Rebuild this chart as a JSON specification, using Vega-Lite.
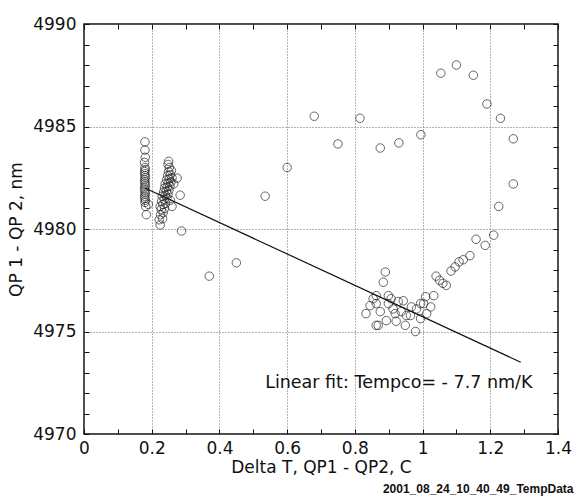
{
  "$schema": "https://vega.github.io/schema/vega-lite/v6.json",
  "width": 474,
  "height": 410,
  "autosize": {"type": "none"},
  "padding": {"left": 84, "top": 24, "right": 16, "bottom": 68},
  "background": "white",
  "config": {"view": {"stroke": "#111", "strokeWidth": 1.5}, "font": "DejaVu Sans"},
  "title": {"text": "2001_08_24_10_40_49_TempData", "orient": "bottom", "anchor": "end", "fontSize": 12, "fontWeight": "bold", "font": "Liberation Sans", "color": "#111", "offset": 9, "dx": 2},
  "datasets": {
    "pts": [
      {"dT": 0.18, "dQ": 4984.25}, {"dT": 0.18, "dQ": 4983.85}, {"dT": 0.181, "dQ": 4983.5}, {"dT": 0.179, "dQ": 4983.25},
      {"dT": 0.18, "dQ": 4983.0}, {"dT": 0.181, "dQ": 4982.9}, {"dT": 0.179, "dQ": 4982.8}, {"dT": 0.18, "dQ": 4982.7},
      {"dT": 0.18, "dQ": 4982.6}, {"dT": 0.181, "dQ": 4982.5}, {"dT": 0.179, "dQ": 4982.4}, {"dT": 0.18, "dQ": 4982.3},
      {"dT": 0.18, "dQ": 4982.2}, {"dT": 0.181, "dQ": 4982.1}, {"dT": 0.179, "dQ": 4982.0}, {"dT": 0.18, "dQ": 4981.9},
      {"dT": 0.18, "dQ": 4981.8}, {"dT": 0.181, "dQ": 4981.7}, {"dT": 0.179, "dQ": 4981.6}, {"dT": 0.18, "dQ": 4981.5},
      {"dT": 0.181, "dQ": 4981.4}, {"dT": 0.18, "dQ": 4981.3}, {"dT": 0.182, "dQ": 4981.1}, {"dT": 0.19, "dQ": 4981.2},
      {"dT": 0.184, "dQ": 4980.7},
      {"dT": 0.225, "dQ": 4980.2}, {"dT": 0.222, "dQ": 4980.45}, {"dT": 0.232, "dQ": 4980.5}, {"dT": 0.226, "dQ": 4980.7},
      {"dT": 0.234, "dQ": 4980.8}, {"dT": 0.228, "dQ": 4980.95}, {"dT": 0.238, "dQ": 4981.0}, {"dT": 0.225, "dQ": 4981.1},
      {"dT": 0.233, "dQ": 4981.2}, {"dT": 0.241, "dQ": 4981.25}, {"dT": 0.229, "dQ": 4981.35}, {"dT": 0.237, "dQ": 4981.45},
      {"dT": 0.245, "dQ": 4981.5}, {"dT": 0.231, "dQ": 4981.6}, {"dT": 0.24, "dQ": 4981.65}, {"dT": 0.248, "dQ": 4981.7},
      {"dT": 0.235, "dQ": 4981.8}, {"dT": 0.243, "dQ": 4981.85}, {"dT": 0.251, "dQ": 4981.9}, {"dT": 0.238, "dQ": 4982.0},
      {"dT": 0.246, "dQ": 4982.05}, {"dT": 0.254, "dQ": 4982.1}, {"dT": 0.24, "dQ": 4982.2}, {"dT": 0.249, "dQ": 4982.25},
      {"dT": 0.257, "dQ": 4982.3}, {"dT": 0.244, "dQ": 4982.4}, {"dT": 0.252, "dQ": 4982.45}, {"dT": 0.26, "dQ": 4982.5},
      {"dT": 0.247, "dQ": 4982.6}, {"dT": 0.255, "dQ": 4982.65}, {"dT": 0.25, "dQ": 4982.8}, {"dT": 0.258, "dQ": 4982.85},
      {"dT": 0.252, "dQ": 4983.0}, {"dT": 0.248, "dQ": 4983.15}, {"dT": 0.25, "dQ": 4983.3},
      {"dT": 0.275, "dQ": 4982.48}, {"dT": 0.284, "dQ": 4981.65}, {"dT": 0.26, "dQ": 4981.1}, {"dT": 0.255, "dQ": 4981.4},
      {"dT": 0.288, "dQ": 4979.9}, {"dT": 0.265, "dQ": 4982.2},
      {"dT": 0.37, "dQ": 4977.7}, {"dT": 0.45, "dQ": 4978.35}, {"dT": 0.535, "dQ": 4981.6}, {"dT": 0.6, "dQ": 4983.0},
      {"dT": 0.68, "dQ": 4985.5}, {"dT": 0.75, "dQ": 4984.15}, {"dT": 0.815, "dQ": 4985.4}, {"dT": 0.875, "dQ": 4983.95},
      {"dT": 0.93, "dQ": 4984.2}, {"dT": 0.995, "dQ": 4984.6}, {"dT": 1.054, "dQ": 4987.6}, {"dT": 1.1, "dQ": 4988.0},
      {"dT": 1.15, "dQ": 4987.5}, {"dT": 1.19, "dQ": 4986.1}, {"dT": 1.23, "dQ": 4985.4}, {"dT": 1.268, "dQ": 4984.4},
      {"dT": 1.268, "dQ": 4982.2}, {"dT": 1.225, "dQ": 4981.1},
      {"dT": 1.158, "dQ": 4979.5}, {"dT": 1.185, "dQ": 4979.2}, {"dT": 1.21, "dQ": 4979.7}, {"dT": 1.14, "dQ": 4978.7},
      {"dT": 1.12, "dQ": 4978.5}, {"dT": 1.108, "dQ": 4978.4}, {"dT": 1.096, "dQ": 4978.15}, {"dT": 1.084, "dQ": 4977.95},
      {"dT": 1.04, "dQ": 4977.7}, {"dT": 1.05, "dQ": 4977.5}, {"dT": 1.06, "dQ": 4977.35}, {"dT": 1.07, "dQ": 4977.25},
      {"dT": 0.89, "dQ": 4977.9}, {"dT": 0.884, "dQ": 4977.4},
      {"dT": 0.833, "dQ": 4975.87}, {"dT": 0.845, "dQ": 4976.26}, {"dT": 0.854, "dQ": 4976.6}, {"dT": 0.863, "dQ": 4976.75},
      {"dT": 0.863, "dQ": 4976.36}, {"dT": 0.875, "dQ": 4975.97}, {"dT": 0.869, "dQ": 4975.3}, {"dT": 0.893, "dQ": 4975.53},
      {"dT": 0.899, "dQ": 4976.75}, {"dT": 0.899, "dQ": 4976.36}, {"dT": 0.907, "dQ": 4976.6}, {"dT": 0.913, "dQ": 4976.1},
      {"dT": 0.919, "dQ": 4975.87}, {"dT": 0.922, "dQ": 4975.5}, {"dT": 0.928, "dQ": 4976.46}, {"dT": 0.937, "dQ": 4975.97},
      {"dT": 0.943, "dQ": 4976.5}, {"dT": 0.949, "dQ": 4975.3}, {"dT": 0.952, "dQ": 4975.78}, {"dT": 0.964, "dQ": 4975.78},
      {"dT": 0.967, "dQ": 4976.2}, {"dT": 0.982, "dQ": 4976.1}, {"dT": 0.994, "dQ": 4975.63}, {"dT": 0.994, "dQ": 4976.36},
      {"dT": 1.003, "dQ": 4976.36}, {"dT": 1.009, "dQ": 4976.7}, {"dT": 1.012, "dQ": 4975.87}, {"dT": 1.024, "dQ": 4976.2},
      {"dT": 1.033, "dQ": 4976.75}, {"dT": 0.979, "dQ": 4975.0}, {"dT": 0.863, "dQ": 4975.3}
    ],
    "fit": [
      {"dT": 0.18, "dQ": 4982.0},
      {"dT": 1.29, "dQ": 4973.5}
    ],
    "note": [
      {"dT": 0.535, "dQ": 4972.5, "label": "Linear fit: Tempco= - 7.7 nm/K"}
    ]
  },
  "layer": [
    {
      "data": {"name": "pts"},
      "mark": {"type": "point", "shape": "circle", "filled": false, "size": 72, "stroke": "#222", "strokeWidth": 1},
      "encoding": {
        "x": {
          "field": "dT", "type": "quantitative",
          "scale": {"domain": [0, 1.4], "nice": false, "zero": false},
          "axis": {
            "orient": "bottom",
            "values": [0, 0.1, 0.2, 0.3, 0.4, 0.5, 0.6, 0.7, 0.8, 0.9, 1, 1.1, 1.2, 1.3, 1.4],
            "format": "~g",
            "labelExpr": "round(datum.value*10)%2==0 ? datum.label : ''",
            "labelFlush": false, "labelOverlap": false,
            "domain": false,
            "grid": true,
            "gridOpacity": {"condition": {"test": "round(datum.value*10)%2==0", "value": 1}, "value": 0},
            "gridColor": "#666", "gridDash": [1, 2], "gridWidth": 1,
            "tickSize": -5, "tickColor": "#111", "tickWidth": 1,
            "labelPadding": 11, "labelFontSize": 17, "labelColor": "#111", "labelFont": "DejaVu Sans",
            "title": "Delta T, QP1 - QP2, C", "titleFontSize": 17, "titleFontWeight": "normal", "titleColor": "#111",
            "titleFont": "DejaVu Sans", "titlePadding": 3
          }
        },
        "y": {
          "field": "dQ", "type": "quantitative",
          "scale": {"domain": [4970, 4990], "nice": false, "zero": false},
          "axis": {
            "orient": "left",
            "values": [4970, 4971, 4972, 4973, 4974, 4975, 4976, 4977, 4978, 4979, 4980, 4981, 4982, 4983, 4984, 4985, 4986, 4987, 4988, 4989, 4990],
            "format": "d",
            "labelExpr": "datum.value % 5 == 0 ? datum.label : ''",
            "labelOverlap": false,
            "domain": false,
            "grid": true,
            "gridOpacity": {"condition": {"test": "datum.value % 5 == 0", "value": 1}, "value": 0},
            "gridColor": "#666", "gridDash": [1, 2], "gridWidth": 1,
            "tickSize": -5, "tickColor": "#111", "tickWidth": 1,
            "labelPadding": 13, "labelFontSize": 17, "labelColor": "#111", "labelFont": "DejaVu Sans",
            "title": "QP 1 - QP 2, nm", "titleFontSize": 17, "titleFontWeight": "normal", "titleColor": "#111",
            "titleFont": "DejaVu Sans", "titlePadding": 7
          }
        }
      }
    },
    {
      "data": {"name": "fit"},
      "mark": {"type": "line", "color": "#111", "strokeWidth": 1.2},
      "encoding": {
        "x": {
          "field": "dT", "type": "quantitative",
          "axis": {
            "orient": "top",
            "values": [0, 0.1, 0.2, 0.3, 0.4, 0.5, 0.6, 0.7, 0.8, 0.9, 1, 1.1, 1.2, 1.3, 1.4],
            "labels": false, "domain": false, "grid": false, "title": null,
            "tickSize": -5, "tickColor": "#111", "tickWidth": 1
          }
        },
        "y": {
          "field": "dQ", "type": "quantitative",
          "axis": {
            "orient": "right",
            "values": [4970, 4971, 4972, 4973, 4974, 4975, 4976, 4977, 4978, 4979, 4980, 4981, 4982, 4983, 4984, 4985, 4986, 4987, 4988, 4989, 4990],
            "labels": false, "domain": false, "grid": false, "title": null,
            "tickSize": -5, "tickColor": "#111", "tickWidth": 1
          }
        }
      }
    },
    {
      "data": {"name": "note"},
      "mark": {"type": "text", "align": "left", "baseline": "middle", "fontSize": 17.5, "font": "DejaVu Sans", "color": "#111"},
      "encoding": {
        "x": {"field": "dT", "type": "quantitative", "axis": null},
        "y": {"field": "dQ", "type": "quantitative", "axis": null},
        "text": {"field": "label"}
      }
    }
  ],
  "resolve": {"axis": {"x": "independent", "y": "independent"}}
}
